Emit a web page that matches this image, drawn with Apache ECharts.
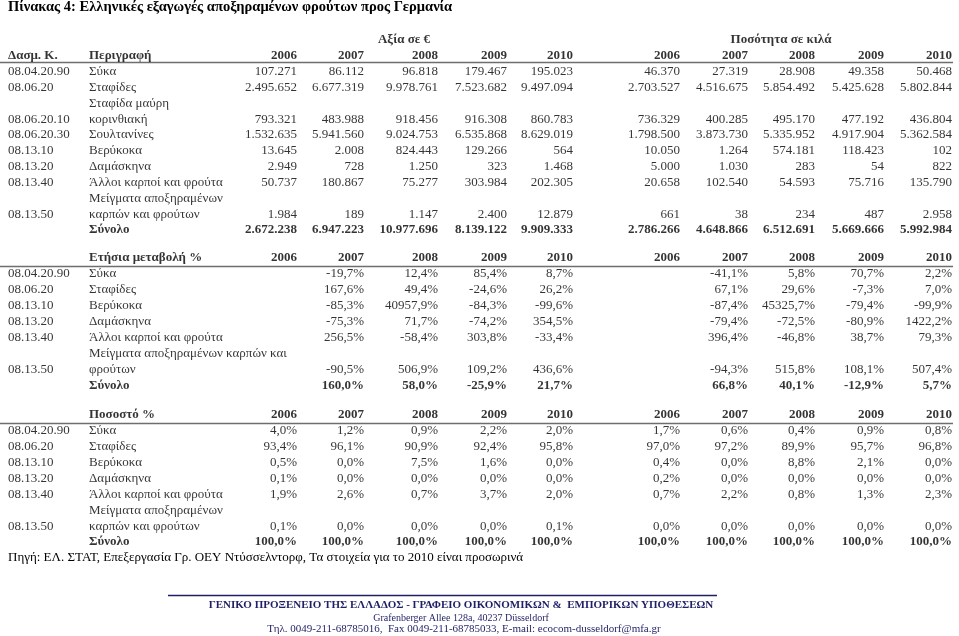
<!DOCTYPE html>
<html><head><meta charset="utf-8">
<script src="https://cdn.jsdelivr.net/npm/echarts@6/dist/echarts.min.js"></script>
<style>html,body{margin:0;padding:0;background:#fff}#c{width:959px;height:636px}</style>
</head><body><div id="c"></div>
<script>
// ---------- DATA ----------
const years = ['2006', '2007', '2008', '2009', '2010'];
const codes = ['08.04.20.90', '08.06.20', '08.06.20.10', '08.06.20.30', '08.13.10', '08.13.20', '08.13.40', '08.13.50'];
const products = ['Σύκα', 'Σταφίδες', 'Σταφίδα μαύρη\nκορινθιακή', 'Σουλτανίνες', 'Βερύκοκα', 'Δαμάσκηνα', 'Άλλοι καρποί και φρούτα', 'Μείγματα αποξηραμένων\nκαρπών και φρούτων'];

const val2006 = [107271, 2495652, 793321, 1532635, 13645, 2949, 50737, 1984];
const val2007 = [86112, 6677319, 483988, 5941560, 2008, 728, 180867, 189];
const val2008 = [96818, 9978761, 918456, 9024753, 824443, 1250, 75277, 1147];
const val2009 = [179467, 7523682, 916308, 6535868, 129266, 323, 303984, 2400];
const val2010 = [195023, 9497094, 860783, 8629019, 564, 1468, 202305, 12879];
const valTotal = [2672238, 6947223, 10977696, 8139122, 9909333];

const qty2006 = [46370, 2703527, 736329, 1798500, 10050, 5000, 20658, 661];
const qty2007 = [27319, 4516675, 400285, 3873730, 1264, 1030, 102540, 38];
const qty2008 = [28908, 5854492, 495170, 5335952, 574181, 283, 54593, 234];
const qty2009 = [49358, 5425628, 477192, 4917904, 118423, 54, 75716, 487];
const qty2010 = [50468, 5802844, 436804, 5362584, 102, 822, 135790, 2958];
const qtyTotal = [2786266, 4648866, 6512691, 5669666, 5992984];

const codesB = ['08.04.20.90', '08.06.20', '08.13.10', '08.13.20', '08.13.40', '08.13.50'];
const productsChg = ['Σύκα', 'Σταφίδες', 'Βερύκοκα', 'Δαμάσκηνα', 'Άλλοι καρποί και φρούτα', 'Μείγματα αποξηραμένων καρπών και\nφρούτων'];
const productsShr = ['Σύκα', 'Σταφίδες', 'Βερύκοκα', 'Δαμάσκηνα', 'Άλλοι καρποί και φρούτα', 'Μείγματα αποξηραμένων\nκαρπών και φρούτων'];

const chgVal2007 = [-19.7, 167.6, -85.3, -75.3, 256.5, -90.5];
const chgVal2008 = [12.4, 49.4, 40957.9, 71.7, -58.4, 506.9];
const chgVal2009 = [85.4, -24.6, -84.3, -74.2, 303.8, 109.2];
const chgVal2010 = [8.7, 26.2, -99.6, 354.5, -33.4, 436.6];
const chgValTotal = [null, 160.0, 58.0, -25.9, 21.7];
const chgQty2007 = [-41.1, 67.1, -87.4, -79.4, 396.4, -94.3];
const chgQty2008 = [5.8, 29.6, 45325.7, -72.5, -46.8, 515.8];
const chgQty2009 = [70.7, -7.3, -79.4, -80.9, 38.7, 108.1];
const chgQty2010 = [2.2, 7.0, -99.9, 1422.2, 79.3, 507.4];
const chgQtyTotal = [null, 66.8, 40.1, -12.9, 5.7];

const shrVal2006 = [4.0, 93.4, 0.5, 0.1, 1.9, 0.1];
const shrVal2007 = [1.2, 96.1, 0.0, 0.0, 2.6, 0.0];
const shrVal2008 = [0.9, 90.9, 7.5, 0.0, 0.7, 0.0];
const shrVal2009 = [2.2, 92.4, 1.6, 0.0, 3.7, 0.0];
const shrVal2010 = [2.0, 95.8, 0.0, 0.0, 2.0, 0.1];
const shrQty2006 = [1.7, 97.0, 0.4, 0.2, 0.7, 0.0];
const shrQty2007 = [0.6, 97.2, 0.0, 0.0, 2.2, 0.0];
const shrQty2008 = [0.4, 89.9, 8.8, 0.0, 0.8, 0.0];
const shrQty2009 = [0.9, 95.7, 2.1, 0.0, 1.3, 0.0];
const shrQty2010 = [0.8, 96.8, 0.0, 0.0, 2.3, 0.0];
const shrValTotal = [100.0, 100.0, 100.0, 100.0, 100.0];
const shrQtyTotal = [100.0, 100.0, 100.0, 100.0, 100.0];

const titleText = 'Πίνακας 4: Ελληνικές εξαγωγές αποξηραμένων φρούτων προς Γερμανία';
const sourceText = 'Πηγή: ΕΛ. ΣΤΑΤ, Επεξεργασία Γρ. ΟΕΥ Ντύσσελντορφ, Τα στοιχεία για το 2010 είναι προσωρινά';
const footerLines = [
  'ΓΕΝΙΚΟ ΠΡΟΞΕΝΕΙΟ ΤΗΣ ΕΛΛΑΔΟΣ - ΓΡΑΦΕΙΟ ΟΙΚΟΝΟΜΙΚΩΝ &  ΕΜΠΟΡΙΚΩΝ ΥΠΟΘΕΣΕΩΝ',
  'Grafenberger Allee 128a, 40237 Düsseldorf',
  'Τηλ. 0049-211-68785016,  Fax 0049-211-68785033, E-mail: ecocom-dusseldorf@mfa.gr'
];

// ---------- LAYOUT / STYLE ----------
const FONT = "'Liberation Serif','Times New Roman',serif";
const FS = 13;
const COL = { code: 8, desc: 89, val: [297, 364, 438, 507, 573], qty: [680, 748, 815, 884, 952], valGroup: 404, qtyGroup: 781 };
const NAVY = '#1f1f66';

// ---------- HELPERS ----------
const fmtInt = n => String(n).replace(/\B(?=(\d{3})+(?!\d))/g, '.');
const fmtPct = v => (v === null || v === undefined) ? '' : v.toFixed(1).replace('.', ',') + '%';
const C = (x, text, align, bold) => ({ x, text, align, bold });

function productRows(codeArr, descArr, valCols, qtyCols, fmt) {
  const rows = [];
  descArr.forEach((d, i) => {
    const lines = d.split('\n');
    for (let k = 0; k < lines.length - 1; k++) rows.push([C(COL.desc, lines[k], 'left')]);
    const r = [C(COL.code, codeArr[i], 'left'), C(COL.desc, lines[lines.length - 1], 'left')];
    valCols.forEach((arr, y) => { if (arr) r.push(C(COL.val[y], fmt(arr[i]), 'right')); });
    qtyCols.forEach((arr, y) => { if (arr) r.push(C(COL.qty[y], fmt(arr[i]), 'right')); });
    rows.push(r);
  });
  return rows;
}
function yearHeader(first) {
  const r = first;
  years.forEach((y, i) => { r.push(C(COL.val[i], y, 'right', true)); r.push(C(COL.qty[i], y, 'right', true)); });
  return r;
}
function totalRow(vt, qt, fmt) {
  const r = [C(COL.desc, 'Σύνολο', 'left', true)];
  years.forEach((y, i) => {
    r.push(C(COL.val[i], fmt(vt[i]), 'right', true));
    r.push(C(COL.qty[i], fmt(qt[i]), 'right', true));
  });
  return r;
}

// Section 1: values & quantities
const sec1 = [
  [C(COL.valGroup, 'Αξία σε €', 'center', true), C(COL.qtyGroup, 'Ποσότητα σε κιλά', 'center', true)],
  yearHeader([C(COL.code, 'Δασμ. Κ.', 'left', true), C(COL.desc, 'Περιγραφή', 'left', true)]),
  ...productRows(codes, products, [val2006, val2007, val2008, val2009, val2010], [qty2006, qty2007, qty2008, qty2009, qty2010], fmtInt),
  totalRow(valTotal, qtyTotal, fmtInt)
];
// Section 2: annual change
const sec2 = [
  yearHeader([C(COL.desc, 'Ετήσια μεταβολή %', 'left', true)]),
  ...productRows(codesB, productsChg, [null, chgVal2007, chgVal2008, chgVal2009, chgVal2010], [null, chgQty2007, chgQty2008, chgQty2009, chgQty2010], fmtPct),
  totalRow(chgValTotal, chgQtyTotal, fmtPct)
];
// Section 3: share
const sec3 = [
  yearHeader([C(COL.desc, 'Ποσοστό %', 'left', true)]),
  ...productRows(codesB, productsShr, [shrVal2006, shrVal2007, shrVal2008, shrVal2009, shrVal2010], [shrQty2006, shrQty2007, shrQty2008, shrQty2009, shrQty2010], fmtPct),
  totalRow(shrValTotal, shrQtyTotal, fmtPct)
];

const sections = [sec1, sec2, sec3];
const grids = [
  { left: 0, right: 0, top: 32, height: 206 },
  { left: 0, right: 0, top: 250, height: 144 },
  { left: 0, right: 0, top: 407, height: 143 }
];

const xAxes = [], yAxes = [], series = [];
sections.forEach((sec, g) => {
  const cats = sec.map((_, i) => 's' + g + 'r' + i);
  xAxes.push({ type: 'value', gridIndex: g, min: 0, max: 959, show: false });
  yAxes.push({ type: 'category', gridIndex: g, data: cats, inverse: true, show: false, boundaryGap: true });
  const data = [];
  sec.forEach((row, i) => row.forEach(c => {
    if (c.text === '') return;
    data.push({
      name: c.text, value: [c.x, cats[i]],
      label: { align: c.align, fontWeight: c.bold ? 'bold' : 'normal' }
    });
  }));
  series.push({
    type: 'scatter', xAxisIndex: g, yAxisIndex: g, symbolSize: 0, silent: true, animation: false,
    data,
    label: { show: true, position: 'inside', formatter: '{b}', color: '#000', fontFamily: FONT, fontSize: FS, verticalAlign: 'middle' }
  });
});

const chart = echarts.init(document.getElementById('c'), null, { renderer: 'canvas' });
chart.setOption({
  backgroundColor: '#fff',
  animation: false,
  grid: grids,
  xAxis: xAxes,
  yAxis: yAxes,
  series,
  title: [
    { text: titleText, left: 8, top: 0, padding: 0, textStyle: { fontFamily: FONT, fontSize: 14.5, fontWeight: 'bold', color: '#000' } },
    { text: sourceText, left: 8, top: 551, padding: 0, textStyle: { fontFamily: FONT, fontSize: FS, fontWeight: 'normal', color: '#000' } },
    { text: footerLines[0], left: 461, textAlign: 'center', top: 600, padding: 0, textStyle: { fontFamily: FONT, fontSize: 11, fontWeight: 'bold', color: NAVY } },
    { text: footerLines[1], left: 461, textAlign: 'center', top: 613, padding: 0, textStyle: { fontFamily: FONT, fontSize: 10, fontWeight: 'normal', color: NAVY } },
    { text: footerLines[2], left: 464, textAlign: 'center', top: 624, padding: 0, textStyle: { fontFamily: FONT, fontSize: 11, fontWeight: 'normal', color: NAVY } }
  ],
  graphic: [
    { type: 'line', shape: { x1: 0, y1: 62.5, x2: 953, y2: 62.5 }, style: { stroke: '#6e6e6e', lineWidth: 1.6 } },
    { type: 'line', shape: { x1: 0, y1: 266.5, x2: 953, y2: 266.5 }, style: { stroke: '#6e6e6e', lineWidth: 1.6 } },
    { type: 'line', shape: { x1: 0, y1: 423.5, x2: 953, y2: 423.5 }, style: { stroke: '#6e6e6e', lineWidth: 1.6 } },
    { type: 'line', shape: { x1: 168, y1: 595.5, x2: 717, y2: 595.5 }, style: { stroke: NAVY, lineWidth: 1.5 } }
  ]
});
</script></body></html>
